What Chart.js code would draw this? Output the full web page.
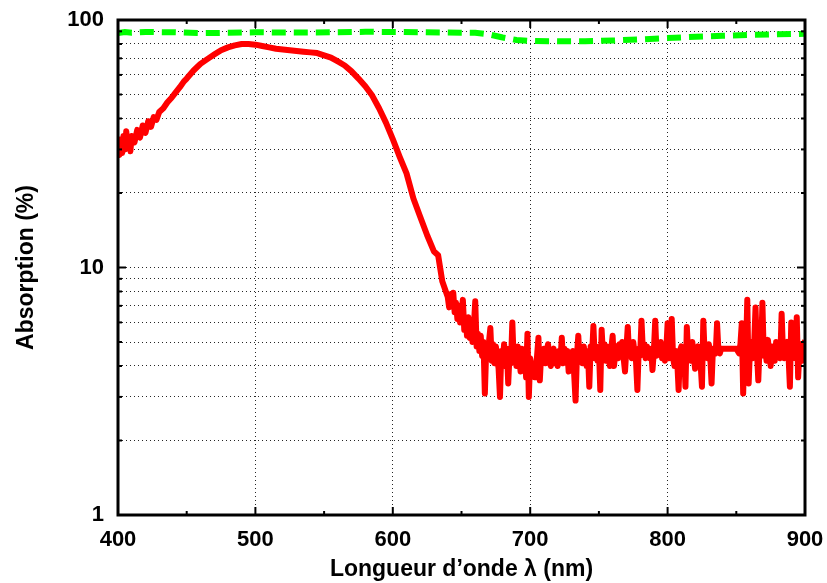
<!DOCTYPE html>
<html>
<head>
<meta charset="utf-8">
<script src="https://cdn.jsdelivr.net/npm/chart.js@4/dist/chart.umd.min.js"></script>
<style>
  html, body { margin: 0; padding: 0; background: #fff; }
  #wrap { width: 827px; height: 583px; position: relative; }
</style>
</head>
<body>
<div id="wrap"><canvas id="absChart"></canvas></div>
<script>
// red curve, smooth part: wavelength (nm) and absorption (%)
const redWavelength = [
    400, 401, 402, 403, 404, 405, 406, 407, 408, 409, 410, 412, 414, 416, 418, 420, 422, 424, 426, 428,
    430, 433, 436, 439, 442, 445, 448, 450, 455, 460, 465, 470, 475, 480, 485, 490, 495, 500, 505, 510,
    515, 520, 525, 530, 535, 540, 545, 550, 555, 560, 565, 570, 575, 580, 585, 590, 595, 600, 605, 610,
    615, 620, 625, 630, 633, 636
];
const redAbsorption = [
    31, 28.5, 33, 29, 34, 30, 35.5, 31, 33, 29.5, 34, 32, 36, 33.5, 37.5, 35, 39, 37, 40.5, 39.5,
    42.5, 44, 46.5, 48.5, 51, 53.5, 56.5, 58, 62.5, 66.5, 69.5, 72.5, 75.5, 77.5, 79, 80, 80, 79.5, 78.5, 77.5,
    76.5, 76, 75.5, 75, 74.5, 74, 73.5, 72, 70.5, 68, 65.5, 62, 58, 54, 49.5, 44, 38.5, 33, 28, 24,
    19, 16, 13.5, 11.6, 11.2, 8.8
];

// red curve, noisy part: one reading per nm from 640 to 900 nm
const noiseStartNm = 640;
const redNoisy = [
    7.6, 6.9, 7.8, 7.0, 7.9, 6.6, 7.2, 6.2, 7.0, 6.0,
    6.6, 7.4, 5.6, 6.2, 5.3, 6.3, 5.2, 5.9, 5.0, 5.8,
    7.3, 4.8, 5.4, 4.6, 5.3, 4.4, 5.0, 3.1, 4.7, 4.3,
    5.0, 5.7, 4.2, 4.9, 4.1, 4.8, 4.3, 3.9, 3.0, 4.6,
    4.2, 4.9, 4.0, 4.7, 3.4, 4.5, 4.1, 6.0, 4.2, 4.8,
    4.0, 4.8, 4.3, 3.8, 4.7, 4.2, 4.6, 3.6, 5.4, 3.0,
    4.3, 4.0, 3.7, 3.6, 3.6, 4.4, 5.2, 3.5, 4.5, 4.1,
    4.7, 4.1, 4.6, 4.9, 4.2, 4.0, 4.6, 4.7, 4.1, 4.5,
    4.0, 4.6, 4.2, 5.2, 4.1, 4.7, 4.2, 4.6, 3.8, 4.5,
    4.2, 4.6, 3.7, 2.9, 4.4, 5.3, 4.2, 4.7, 4.1, 4.8,
    4.3, 4.0, 4.6, 3.3, 4.8, 4.4, 5.8, 4.3, 4.8, 4.2,
    4.7, 3.2, 5.6, 4.4, 4.9, 4.2, 4.8, 4.4, 4.0, 4.7,
    5.3, 4.0, 4.6, 4.8, 4.3, 4.9, 4.4, 5.0, 4.3, 3.8,
    4.7, 5.75, 4.4, 4.9, 4.3, 5.0, 4.5, 4.2, 3.2, 4.7,
    4.4, 6.1, 4.6, 4.9, 4.3, 4.8, 4.5, 4.3, 4.7, 3.85,
    4.6, 6.1, 4.4, 4.9, 4.5, 5.0, 4.3, 4.7, 4.2, 4.6,
    5.95, 4.3, 4.7, 6.2, 4.3, 4.0, 4.6, 4.2, 3.2, 4.6,
    4.8, 4.2, 4.6, 3.3, 5.75, 4.4, 4.9, 4.2, 5.0, 4.4,
    3.9, 4.7, 4.8, 4.3, 4.1, 3.3, 6.1, 4.4, 4.6, 4.3,
    4.9, 4.4, 3.4, 4.7, 4.6, 4.5, 5.95, 4.6, 4.5, 4.7,
    4.7, 4.7, 4.7, 4.7, 4.7, 4.7, 4.7, 4.7, 4.7, 4.7,
    4.7, 4.6, 4.5, 4.9, 5.95, 3.1, 5.0, 4.4, 7.4, 3.4,
    4.8, 5.0, 4.3, 4.9, 6.9, 4.6, 3.5, 4.9, 4.4, 7.2,
    4.4, 4.8, 4.2, 5.1, 4.5, 4.0, 4.8, 4.6, 4.2, 5.0,
    4.4, 4.8, 4.3, 6.5, 4.5, 4.3, 4.9, 5.0, 4.4, 3.3,
    6.0, 4.5, 4.7, 4.3, 6.3, 3.6, 4.6, 4.9, 4.2, 4.4,
    5.1
];

// green dashed curve
const greenWavelength = [400, 405, 410, 420, 440, 460, 480, 500, 520, 540, 560, 580, 600, 620, 640, 660,
    670, 680, 690, 700, 720, 740, 760, 780, 800, 820, 840, 860, 880, 900];
const greenAbsorption = [88.5, 89.5, 88.8, 89.5, 89.2, 88.5, 88.8, 89.2, 89, 89, 89.3, 89.6, 89.5, 89.2, 89, 88.8,
    87.5, 85, 83, 82.2, 82, 82.1, 82.6, 83.5, 84.5, 85.5, 86.3, 87, 87.5, 88];

// axes
const xTicks = [400, 500, 600, 700, 800, 900];
const xMinorTicks = [450, 550, 650, 750, 850];
const yGridValues = [1, 2, 3, 4, 5, 6, 7, 8, 9, 10, 20, 30, 40, 50, 60, 70, 80, 90, 100];
const yTickLabels = [1, 10, 100];

const FONT = "'Liberation Sans', Arial, sans-serif";

// gnuplot-like frame with inward ticks on all four sides
const framePlugin = {
    id: "frame",
    afterDatasetsDraw(chart) {
        const { ctx, chartArea: a, scales: { x, y } } = chart;
        ctx.save();
        ctx.strokeStyle = "#000";
        ctx.lineWidth = 2;
        const seg = (x1, y1, x2, y2) => {
            ctx.beginPath();
            ctx.moveTo(x1, y1);
            ctx.lineTo(x2, y2);
            ctx.stroke();
        };
        xTicks.concat(xMinorTicks).forEach(v => {
            const px = x.getPixelForValue(v);
            const len = xTicks.includes(v) ? 8 : 4;
            seg(px, a.bottom, px, a.bottom - len);
            seg(px, a.top, px, a.top + len);
        });
        yGridValues.forEach(v => {
            const py = y.getPixelForValue(v);
            const len = yTickLabels.includes(v) ? 8 : 4;
            seg(a.left, py, a.left + len, py);
            seg(a.right, py, a.right - len, py);
        });
        ctx.lineWidth = 3;
        ctx.strokeRect(a.left, a.top, a.right - a.left, a.bottom - a.top);
        ctx.restore();
    }
};

const redPoints = redWavelength.map((w, i) => ({ x: w, y: redAbsorption[i] }))
    .concat(redNoisy.map((v, i) => ({ x: noiseStartNm + i, y: v })));

const ctx = document.getElementById("absChart").getContext("2d");

new Chart(ctx, {
    type: "line",
    data: {
        datasets: [
            {
                label: "green",
                data: greenWavelength.map((w, i) => ({ x: w, y: greenAbsorption[i] })),
                borderColor: "#00ff00",
                borderWidth: 6,
                borderDash: [14, 8],
                pointRadius: 0,
                tension: 0
            },
            {
                label: "red",
                data: redPoints,
                borderColor: "#ff0000",
                borderWidth: 6,
                borderJoinStyle: "round",
                pointRadius: 0,
                tension: 0
            }
        ]
    },
    options: {
        responsive: true,
        maintainAspectRatio: false,
        animation: false,
        layout: { padding: { top: 20, right: 22, left: 0, bottom: 0 } },
        plugins: {
            legend: { display: false },
            tooltip: { enabled: false }
        },
        scales: {
            x: {
                type: "linear",
                min: 400,
                max: 900,
                afterBuildTicks: scale => { scale.ticks = xTicks.map(v => ({ value: v })); },
                afterFit: scale => {
                    scale.height = 68;
                    scale.paddingLeft = 0;
                    scale.paddingRight = 0;
                },
                grid: { color: "rgba(0,0,0,0.85)", lineWidth: 1, drawTicks: false },
                border: { display: false, dash: [1, 3] },
                ticks: {
                    autoSkip: false,
                    maxRotation: 0,
                    padding: 12,
                    color: "#000",
                    font: { family: FONT, size: 22, weight: "bold" }
                },
                title: {
                    display: true,
                    text: "Longueur d\u2019onde \u03bb (nm)",
                    color: "#000",
                    padding: { top: 0, bottom: 0 },
                    font: { family: FONT, size: 23, weight: "bold" }
                }
            },
            y: {
                type: "logarithmic",
                min: 1,
                max: 100,
                afterBuildTicks: scale => { scale.ticks = yGridValues.map(v => ({ value: v })); },
                afterFit: scale => {
                    scale.width = 118;
                    scale.paddingTop = 0;
                    scale.paddingBottom = 0;
                },
                grid: { color: "rgba(0,0,0,0.85)", lineWidth: 1, drawTicks: false },
                border: { display: false, dash: [1, 3] },
                ticks: {
                    autoSkip: false,
                    padding: 14,
                    color: "#000",
                    font: { family: FONT, size: 22, weight: "bold" },
                    callback: value => yTickLabels.includes(value) ? String(value) : ""
                },
                title: {
                    display: true,
                    text: "Absorption (%)",
                    color: "#000",
                    padding: { top: 13, bottom: 0 },
                    font: { family: FONT, size: 23, weight: "bold" }
                }
            }
        }
    },
    plugins: [framePlugin]
});
</script>
</body>
</html>
